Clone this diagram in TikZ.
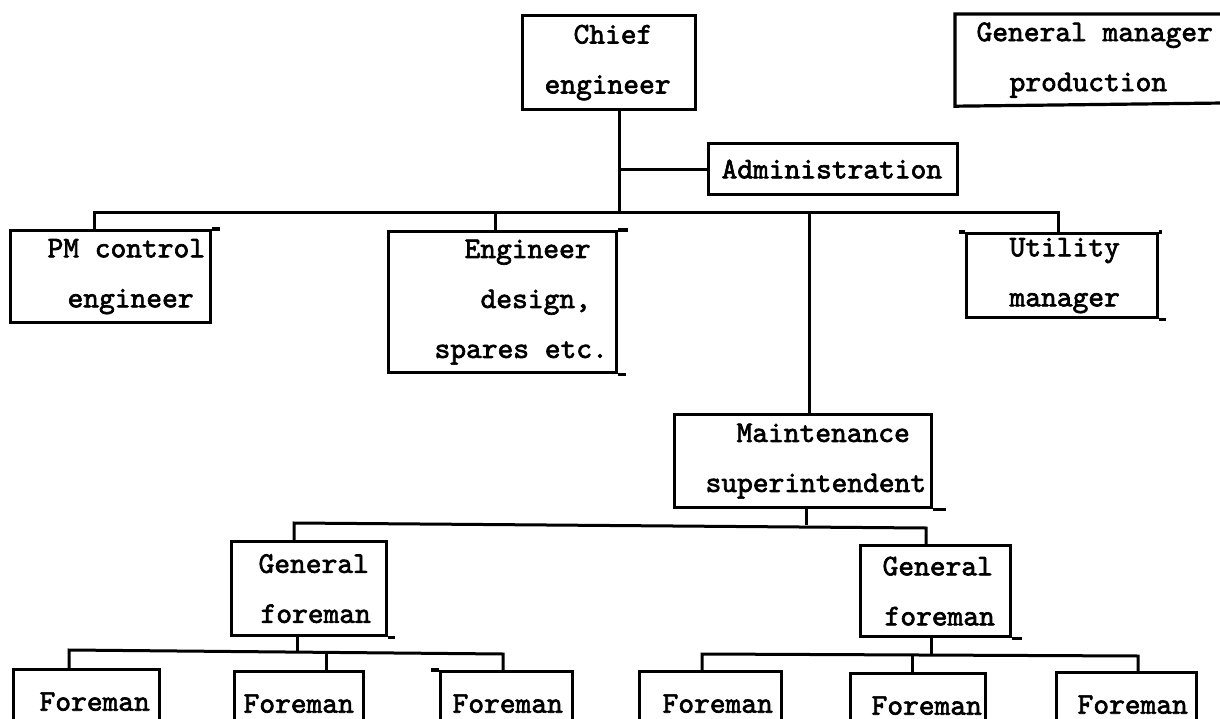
\documentclass[tikz,border=0pt]{standalone}
\usepackage{fontspec}
% typewritten labels: Latin Modern Mono, thickened like a heavy ribbon
\newfontfamily\typefont{lmmono10-regular}[Extension=.otf, FakeBold=2.2]
\newcommand\typed{\typefont\fontsize{30}{50}\selectfont}
% indent a typed line by a number of points
\newcommand\ind[1]{\hspace*{#1pt}}
% one fixed typewriter space (width of one character)
\newcommand\tsp{\hphantom{x}}
\begin{document}
\begin{tikzpicture}[x=1pt,y=-1pt,
  box/.style={draw, line width=3.2pt, inner xsep=0pt, inner ysep=0pt,
              anchor=north west, align=left, font=\typed},
  openbox/.style={box, draw=none},
  conn/.style={line width=3pt},
  edgeover/.style={line width=3.2pt}]
\useasboundingbox (0,0) rectangle (1220,719);
\fill[white] (0,0) rectangle (1220,719);
\clip (0,0) rectangle (1220,719);

% ---- boxes ----
\node[box, text width=173pt, minimum height=94pt] (chief) at (521,14)
  {\ind{51}Chief\\\ind{22}engineer};
% this box runs off the right margin: only three sides are ruled
\node[openbox, text width=240pt, minimum height=89pt] (gm) at (955,14)
  {\ind{20}General\tsp manager\\\ind{53}production};
\coordinate (gmtr) at (1224,14);
\coordinate (gmbr) at (1224,103);
\draw[edgeover] (gmtr) -- (gm.north west) -- (gm.south west) -- (gmbr);
\node[box, text width=249pt, minimum height=51pt] (admin) at (707,142)
  {\ind{13}Administration};
\node[box, text width=200pt, minimum height=92pt] (pm) at (9,229)
  {\ind{37}PM\tsp control\\\ind{57}engineer};
\node[box, text width=228pt, minimum height=141pt] (eng) at (387,230)
  {\ind{76}Engineer\\\ind{92}design,\\\ind{46}spares\tsp etc.};
\node[box, text width=191pt, minimum height=84pt] (util) at (965,232)
  {\ind{43}Utility\\\ind{43}manager};
\node[box, text width=257pt, minimum height=93pt] (maint) at (673,413)
  {\ind{62}Maintenance\\\ind{31}superintendent};
\node[box, text width=155pt, minimum height=94pt] (gfl) at (230,540)
  {\ind{27}General\\\ind{29}foreman};
\node[box, text width=150pt, minimum height=91pt] (gfr) at (859,544)
  {\ind{22}General\\\ind{24}foreman};
\node[box, text width=146pt, minimum height=64pt] (f1) at (12,668)  {\ind{26}Foreman};
\node[box, text width=129pt, minimum height=64pt] (f2) at (233,670) {\ind{9}Foreman};
\node[box, text width=132pt, minimum height=64pt] (f3) at (439,670) {\ind{12}Foreman};
\node[box, text width=142pt, minimum height=64pt] (f4) at (638,670) {\ind{23}Foreman};
\node[box, text width=135pt, minimum height=64pt] (f5) at (849,672) {\ind{21}Foreman};
\node[box, text width=140pt, minimum height=64pt] (f6) at (1055,671) {\ind{21}Foreman};

% ruled edges running past the box corners
\draw[edgeover] (pm.north east) -- ++(8,0);
\draw[edgeover] (eng.north east) -- ++(10,0);
\draw[edgeover] (eng.south east) -- ++(8,0);
\draw[edgeover] (util.north east) -- ++(3,0);
\draw[edgeover] (util.south east) -- ++(7,0);
\draw[edgeover] (util.north west) -- ++(-6,0);
\draw[edgeover] (maint.south east) -- ++(13,0);
\draw[edgeover] (gfl.south east) -- ++(7,0);
\draw[edgeover] (gfr.south east) -- ++(10,0);
\draw[edgeover] (f3.north west) -- ++(-8,0);

% ---- junction points ----
\coordinate (aj)  at (619,170);
\coordinate (cj)  at (619,213);
\coordinate (b1L) at (94,213);
\coordinate (b1E) at (495,213);
\coordinate (b1M) at (809,213);
\coordinate (b1R) at (1058,213);
\coordinate (b2M) at (806,525);
\coordinate (b2L) at (294,523);
\coordinate (b2R) at (926,528);
\coordinate (b3G) at (297,652);
\coordinate (b3L) at (69,650);
\coordinate (b3M) at (326,652);
\coordinate (b3R) at (503,654);
\coordinate (b4G) at (931,655);
\coordinate (b4L) at (702,654);
\coordinate (b4M) at (912,655);
\coordinate (b4R) at (1138,656);

% ---- connectors ----
\draw[conn] (chief.south -| cj) -- (cj);
\draw[conn] (aj) -- (admin.west |- aj);
\draw[conn] (b1L |- pm.north) -- (b1L) -- (b1R) -- (b1R |- util.north);
\draw[conn] (b1E) -- (b1E |- eng.north);
\draw[conn] (b1M) -- (b1M |- maint.north);

\draw[conn] (maint.south -| b2M) -- (b2M);
\draw[conn] (b2L |- gfl.north) -- (b2L) -- (b2R) -- (b2R |- gfr.north);

\draw[conn] (gfl.south -| b3G) -- (b3G);
\draw[conn] (b3L |- f1.north) -- (b3L) -- (b3R) -- (b3R |- f3.north);
\draw[conn] (b3M) -- (b3M |- f2.north);

\draw[conn] (gfr.south -| b4G) -- (b4G);
\draw[conn] (b4L |- f4.north) -- (b4L) -- (b4R) -- (b4R |- f6.north);
\draw[conn] (b4M) -- (b4M |- f5.north);
\end{tikzpicture}
\end{document}
